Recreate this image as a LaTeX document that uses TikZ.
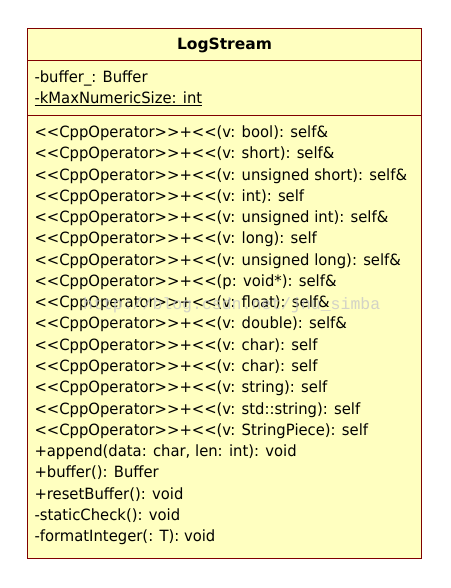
\documentclass[tikz,border=0pt]{standalone}
\usepackage{fontspec}
\setmainfont{DejaVu Sans}[Ligatures=TeXOff, FakeStretch=0.955]
\newfontfamily\titlefont{DejaVu Sans}[Ligatures=TeXOff]
\newfontfamily\wmfont{Liberation Mono}[Ligatures=TeXOff]
\definecolor{classfill}{RGB}{255,255,192}
\definecolor{classline}{RGB}{128,0,0}
\definecolor{wmgray}{RGB}{200,200,200}
\begin{document}
\begin{tikzpicture}[x=1pt,y=-1pt,
  classbox/.style={draw=classline, fill=classfill, line width=1pt, anchor=north west, inner sep=0pt, minimum width=393.4pt, minimum height=530pt},
  sepline/.style={draw=classline, line width=1pt},
  member/.style={anchor=base west, inner sep=0pt, font=\fontsize{15.5}{18}\selectfont},
  titletext/.style={anchor=base, inner sep=0pt, font=\titlefont\fontsize{15.5}{18}\selectfont\bfseries},
  watermark/.style={anchor=base west, inner sep=0pt, text=wmgray, opacity=0.8, font=\wmfont\fontsize{16.5}{18}\selectfont}]
\useasboundingbox (0,0) rectangle (450,588);
\fill[white] (0,0) rectangle (450,588);
\node[classbox] (cls) at (27.3,28) {};
\coordinate (s1w) at (27.3,60.5);
\coordinate (s1e) at (421.5,60.5);
\coordinate (s2w) at (27.3,115.5);
\coordinate (s2e) at (421.5,115.5);
\draw[sepline] (s1w) -- (s1e);
\draw[sepline] (s2w) -- (s2e);
\node[titletext] (title) at (224.5,49.3) {LogStream};
\node[member] (a1) at (34.3,82.3) {-buffer\_: Buffer};
\node[member] (a2) at (34.3,103.6) {\underline{-kMaxNumericSize: int}};
\foreach \t [count=\i] in {
  {<<CppOperator>>+<<(v: bool): self\&},
  {<<CppOperator>>+<<(v: short): self\&},
  {<<CppOperator>>+<<(v: unsigned short): self\&},
  {<<CppOperator>>+<<(v: int): self},
  {<<CppOperator>>+<<(v: unsigned int): self\&},
  {<<CppOperator>>+<<(v: long): self},
  {<<CppOperator>>+<<(v: unsigned long): self\&},
  {<<CppOperator>>+<<(p: void*): self\&},
  {<<CppOperator>>+<<(v: float): self\&},
  {<<CppOperator>>+<<(v: double): self\&},
  {<<CppOperator>>+<<(v: char): self},
  {<<CppOperator>>+<<(v: char): self},
  {<<CppOperator>>+<<(v: string): self},
  {<<CppOperator>>+<<(v: std::string): self},
  {<<CppOperator>>+<<(v: StringPiece): self},
  {+append(data: char, len: int): void},
  {+buffer(): Buffer},
  {+resetBuffer(): void},
  {-staticCheck(): void},
  {-formatInteger(: T): void}}
  \node[member] (m\i) at (34.3,{137.5+(\i-1)*21.27}) {\t};
\node[watermark] (wm) at (83,309) {http://blog.csdn.net/jnu\_simba};
\end{tikzpicture}
\end{document}
